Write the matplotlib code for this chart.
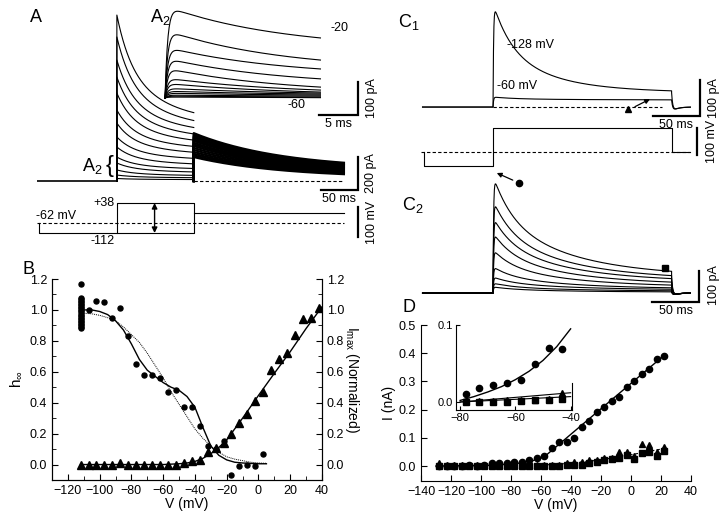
import numpy as np
import matplotlib
matplotlib.use('Agg')
import matplotlib.pyplot as plt
from matplotlib.ticker import MultipleLocator, FormatStrFormatter

plt.rcParams['font.family'] = ['Liberation Sans', 'DejaVu Sans']
plt.rcParams['mathtext.fontset'] = 'custom'
plt.rcParams['mathtext.rm'] = 'Liberation Sans'
plt.rcParams['mathtext.it'] = 'Liberation Sans:italic'
plt.rcParams['font.size'] = 9
plt.rcParams['axes.linewidth'] = 0.8

# ---- panel A: current families (pA) ----
a_pre_peak = [1006, 873, 733, 630, 533, 430, 351, 267, 206, 145, 109, 67, 36, 15]
a_pre_end = [340, 303, 273, 242, 212, 182, 152, 121, 91, 67, 48, 30, 18, 8]
a_test_peak = [290, 280, 270, 262, 252, 243, 232, 222, 212, 200, 188, 176, 165, 155, 145]
a_test_end = [70, 67, 63, 60, 57, 54, 50, 47, 43, 39, 35, 31, 27, 23, 18]
a_step_ms = 104

# A2 inset (first 20 ms of prepulse)
a2_start = [279, 206, 155, 121, 91, 61, 45, 30, 21, 15, 9, 6, 3]
a2_end = [182, 115, 88, 58, 33, 24, 18, 15, 12, 9, 6, 3, 1]

# voltage protocol A (mV)
a_hold = -62
a_pre_lo = -112
a_pre_hi = 38
a_test = -12

# ---- panel C (pA) ----
c1_peak = [289, 28]
c1_end = [40, 20]
c2_peak = [380, 300, 245, 195, 140, 85, 52, 32, 20]
c2_end = [52, 42, 35, 26, 19, 13, 10, 6, 3]
c_step_ms = 190
c_hold = -60
c_pre = -128
c_test = 60

# ---- panel B ----
h_stack = [0.88, 0.89, 0.90, 0.91, 0.92, 0.93, 0.94, 0.95, 0.96, 0.97, 0.98,
           0.99, 1.00, 1.01, 1.02, 1.03, 1.04, 1.05, 1.06, 1.07, 1.08, 1.17]
h_stack_v = -112
h_v = [-107, -102, -97, -92, -87, -82, -77, -72, -67, -62, -57, -52, -47, -42,
       -37, -32, -27, -22, -17, -12, -7, -2, 3]
h_vals = [1.00, 1.06, 1.05, 0.95, 1.01, 0.83, 0.65, 0.58, 0.58, 0.56, 0.47, 0.48,
          0.37, 0.37, 0.25, 0.12, 0.10, 0.15, -0.07, -0.01, 0.0, -0.01, 0.07]
imax_v = [-112, -107, -102, -97, -92, -87, -82, -77, -72, -67, -62, -57, -52,
          -47, -42, -37, -32, -27, -22, -17, -12, -7, -2, 3, 8, 13, 18, 23, 28, 33, 38]
imax_vals = [0.0, 0.0, 0.0, 0.0, 0.0, 0.01, 0.0, 0.0, 0.0, 0.0, 0.0, 0.0, 0.0,
             0.01, 0.02, 0.03, 0.08, 0.11, 0.14, 0.20, 0.27, 0.33, 0.41, 0.47,
             0.61, 0.68, 0.72, 0.84, 0.94, 0.95, 1.01]
fit_v = [-112, -105, -100, -95, -90, -85, -80, -75, -70, -65, -60, -55, -50, -45,
         -40, -35, -30, -25, -20, -15, -10, -5, 0, 5]
h_fit = [1.0, 1.0, 0.99, 0.97, 0.93, 0.87, 0.78, 0.68, 0.61, 0.57, 0.53, 0.50,
         0.48, 0.44, 0.37, 0.24, 0.12, 0.06, 0.03, 0.015, 0.01, 0.007, 0.005, 0.005]
h_fit_single = [0.98, 0.975, 0.965, 0.95, 0.93, 0.89, 0.84, 0.79, 0.72, 0.64, 0.56,
                0.47, 0.39, 0.31, 0.23, 0.17, 0.12, 0.08, 0.05, 0.035, 0.025,
                0.015, 0.01, 0.008]
imax_fit_v = [-112, -60, -50, -45, -40, -35, -30, -25, -20, -10, 0, 10, 20, 30, 40]
imax_fit = [0.0, 0.0, 0.005, 0.01, 0.02, 0.04, 0.07, 0.11, 0.16, 0.30, 0.447,
            0.59, 0.73, 0.88, 1.02]

# ---- panel D ----
d_v = [-128, -123, -118, -113, -108, -103, -98, -93, -88, -83, -78, -73, -68,
       -63, -58, -53, -48, -43, -38, -33, -28, -23, -18, -13, -8, -3, 2, 7, 12, 17, 22]
d_circ = [0.0, 0.0, 0.0, 0.0, 0.005, 0.0, 0.005, 0.01, 0.012, 0.012, 0.015, 0.015,
          0.02, 0.028, 0.035, 0.065, 0.085, 0.085, 0.10, 0.14, 0.16, 0.19, 0.21,
          0.23, 0.245, 0.28, 0.30, 0.325, 0.345, 0.38, 0.39]
d_tri = [0.012, 0.005, 0.005, 0.005, 0.005, 0.005, 0.005, 0.005, 0.005, 0.005,
         0.005, 0.005, 0.005, 0.005, 0.003, 0.005, 0.005, 0.01, 0.015, 0.015,
         0.02, 0.02, 0.03, 0.03, 0.05, 0.05, 0.035, 0.077, 0.074, 0.05, 0.068]
d_sq = [0.0, 0.0, 0.0, 0.0, 0.0, 0.0, 0.0, 0.0, 0.0, 0.0, 0.0, 0.0, 0.0, 0.0,
        0.0, 0.0, 0.0, 0.002, 0.005, 0.005, 0.01, 0.015, 0.02, 0.025, 0.03,
        0.04, 0.025, 0.045, 0.05, 0.035, 0.055]
d_fit_v = [-130, -90, -75, -65, -58, 22]
d_fit = [0.0, 0.003, 0.01, 0.02, 0.032, 0.392]
d_fit2_v = [-60, -40, -20, 0, 22]
d_fit2 = [0.003, 0.01, 0.022, 0.04, 0.062]

din_v = [-78, -73, -68, -63, -58, -53, -48, -43]
din_circ = [0.010, 0.018, 0.022, 0.025, 0.029, 0.049, 0.070, 0.069]
din_tri = [0.001, 0.001, 0.001, 0.002, 0.002, 0.003, 0.004, 0.012]
din_sq = [0.0, 0.0, 0.0, 0.0, 0.001, 0.002, 0.002, 0.004]
din_fit_v = [-80, -75, -70, -65, -60, -55, -50, -45, -40]
din_fit = [0.002, 0.007, 0.013, 0.02, 0.029, 0.04, 0.054, 0.072, 0.095]
din_fit_tri = [0.0, 0.012]
din_fit_sq = [0.0, 0.007]

W, H = 720, 517
fig = plt.figure(figsize=(7.2, 5.17), dpi=100)


def px_axes(x0, y0, x1, y1, off=True):
    ax = fig.add_axes([x0 / W, 1 - y1 / H, (x1 - x0) / W, (y1 - y0) / H])
    if off:
        ax.axis('off')
    return ax


def ftext(x, y, s, **kw):
    fig.text(x / W, 1 - y / H, s, **kw)


def two_exp(t, peak, end, tau1, tau2, frac):
    return end + (peak - end) * (frac * np.exp(-t / tau1) + (1 - frac) * np.exp(-t / tau2))


def scale_bar(ax, x, y, dx, dy):
    ax.plot([x - dx, x, x], [y, y, y + dy], color='k', lw=1.6, clip_on=False,
            solid_joinstyle='miter')


LW = 0.8

# ================= panel A main traces =================
axA = px_axes(37, 5, 372, 195)
axA.set_xlim(-108, 345)
axA.set_ylim(-85, 1067)
axA.plot([-108, 0], [0, 0], color='k', lw=1.2)
t = np.linspace(0, a_step_ms, 300)
for pk, en in zip(a_pre_peak, a_pre_end):
    y = two_exp(t, pk, en, 20, 70, 0.52)
    axA.plot(np.r_[0, t], np.r_[0, y], color='k', lw=LW)
t2 = np.linspace(a_step_ms, 307, 300)
for pk, en in zip(a_test_peak, a_test_end):
    y = two_exp(t2 - a_step_ms, pk, en, 120, 120, 0.5)
    axA.plot(np.r_[a_step_ms, t2], np.r_[0, y], color='k', lw=1.6)
axA.plot([a_step_ms, 307], [0, 0], color='k', lw=0.8, ls=(0, (3, 2)))
scale_bar(axA, 326, -55, 50, 200)
axA.text(301, -70, '50 ms', ha='center', va='top', fontsize=9)
axA.text(336, 45, '200 pA', rotation=90, ha='left', va='center', fontsize=9)

# ================= panel A2 inset =================
axA2 = px_axes(160, 0, 372, 130)
axA2.set_xlim(-0.64, 26.5)
axA2.set_ylim(-97, 297)
ti = np.linspace(0, 19.9, 300)
for s0, e0 in zip(a2_start, a2_end):
    rise = 1 - np.exp(-ti / 0.35)
    y = s0 + (e0 - s0) * (1 - np.exp(-ti / 15)) / (1 - np.exp(-19.9 / 15))
    axA2.plot(ti, rise * y, color='k', lw=LW)
scale_bar(axA2, 24.74, -51.5, 5, 100)
axA2.text(22.2, -60, '5 ms', ha='center', va='top', fontsize=9)
axA2.text(25.7, 0, '100 pA', rotation=90, ha='left', va='center', fontsize=9)
axA2.text(21.2, 212, '-20', ha='left', va='center', fontsize=9)
axA2.text(16.8, -21, '-60', ha='center', va='center', fontsize=9)

# ================= panel A voltage protocol =================
axAv = px_axes(37, 195, 372, 245)
axAv.set_xlim(-108, 345)
axAv.set_ylim(-172, 78)
axAv.plot([-108, 307], [a_hold, a_hold], color='k', lw=0.8, ls=(0, (3, 2)))
axAv.plot([-105, -105, 0, 0, a_step_ms, a_step_ms, 0],
          [a_hold, a_pre_lo, a_pre_lo, a_pre_hi, a_pre_hi, a_pre_lo, a_pre_lo],
          color='k', lw=0.8)
axAv.plot([a_step_ms, 307], [a_test, a_test], color='k', lw=0.8)
axAv.annotate('', xy=(51, a_pre_hi), xytext=(51, a_pre_lo),
              arrowprops=dict(arrowstyle='<|-|>', color='k', lw=1.0,
                              mutation_scale=8, shrinkA=0, shrinkB=0))
axAv.plot([326, 326], [-132, 18], color='k', lw=1.6, clip_on=False)
axAv.text(337, -57, '100 mV', rotation=90, ha='left', va='center', fontsize=9)
axAv.text(-3, a_pre_hi, '+38', ha='right', va='center', fontsize=9)
axAv.text(-3, a_pre_lo - 8, '-112', ha='right', va='top', fontsize=9)
axAv.text(-109, a_hold + 3, '-62 mV', ha='left', va='bottom', fontsize=9)

ftext(30, 18, 'A', fontsize=13, va='center')
ftext(150, 17, r'A$_2$', fontsize=13, va='center')
ftext(82, 166, r'A$_2$', fontsize=13, va='center')
ftext(106, 166, '{', fontsize=17, va='center')

# ================= panel C1 =================
axC1 = px_axes(420, 0, 720, 120)
axC1.set_xlim(-77.7, 241.5)
axC1.set_ylim(-36, 297.5)
tc = np.linspace(0, c_step_ms, 400)
tt = np.linspace(c_step_ms, 210, 60)
for pk, en in zip(c1_peak, c1_end):
    y = (1 - np.exp(-tc / 0.6)) * two_exp(tc, pk, en, 20, 60, 0.52)
    tail = (en + 15) * np.exp(-(tt - c_step_ms) / 1.2) - 15 * np.exp(-(tt - c_step_ms) / 5)
    axC1.plot(np.r_[-75, tc, tt], np.r_[0, y, tail], color='k', lw=LW)
axC1.plot([0, 180], [0, 0], color='k', lw=0.8, ls=(0, (3, 2)))
scale_bar(axC1, 220, -25, 50, 100)
axC1.text(195, -33, '50 ms', ha='center', va='top', fontsize=9)
axC1.text(229, 25, '100 pA', rotation=90, ha='left', va='center', fontsize=9)
axC1.text(15, 172, '-128 mV', ha='left', va='center', fontsize=9)
axC1.text(4, 58, '-60 mV', ha='left', va='center', fontsize=9)
axC1.plot([144], [-5], marker='^', ms=4, color='k')
axC1.annotate('', xy=(167, 22), xytext=(151, 1),
              arrowprops=dict(arrowstyle='-|>', color='k', lw=0.9, mutation_scale=7,
                              shrinkA=0, shrinkB=0))

# ================= panel C protocol =================
axCv = px_axes(420, 120, 720, 175)
axCv.set_xlim(-77.7, 241.5)
axCv.set_ylim(-175, 100)
axCv.plot([-77, 210], [c_hold, c_hold], color='k', lw=0.8, ls=(0, (3, 2)))
axCv.plot([-73, -73, 0, 0, c_step_ms, c_step_ms, 210],
          [c_hold, c_pre, c_pre, c_test, c_test, c_hold, c_hold], color='k', lw=0.8)
axCv.plot([217, 217], [-75, 60], color='k', lw=1.6, clip_on=False)
axCv.text(227, -8, '100 mV', rotation=90, ha='left', va='center', fontsize=9)

# ================= panel C2 =================
axC2 = px_axes(420, 160, 720, 320)
axC2.set_xlim(-77.7, 241.5)
axC2.set_ylim(-87, 430)
for pk, en in zip(c2_peak, c2_end):
    y = (1 - np.exp(-tc / 0.6)) * two_exp(tc, pk, en, 20, 80, 0.4)
    tail = (en + 10) * np.exp(-(tt - c_step_ms) / 1.2) - 10 * np.exp(-(tt - c_step_ms) / 5)
    axC2.plot(np.r_[-75, tc, tt], np.r_[0, y, tail], color='k', lw=LW)
scale_bar(axC2, 219, -29, 50, 100)
axC2.text(195, -40, '50 ms', ha='center', va='top', fontsize=9)
axC2.text(229, 26, '100 pA', rotation=90, ha='left', va='center', fontsize=9)
axC2.plot([28], [355], marker='o', ms=4.5, color='k')
axC2.annotate('', xy=(4, 388), xytext=(21, 365),
              arrowprops=dict(arrowstyle='-|>', color='k', lw=0.9, mutation_scale=7,
                              shrinkA=0, shrinkB=0))
axC2.plot([183], [81], marker='s', ms=4, color='k')

ftext(398, 22, r'C$_1$', fontsize=13, va='center')
ftext(402, 205, r'C$_2$', fontsize=13, va='center')

# ================= panel B =================
axB = px_axes(52, 279, 322, 480, off=False)
axB.plot([h_stack_v] * len(h_stack), h_stack, 'o', ms=3.6, color='k')
axB.plot(h_v, h_vals, 'o', ms=3.6, color='k')
axB.plot(imax_v, imax_vals, '^', ms=5.5, color='k')
axB.plot(fit_v, h_fit, color='k', lw=1.0)
axB.plot(fit_v, h_fit_single, color='k', lw=0.7, ls=(0, (1, 1)))
axB.plot(imax_fit_v, imax_fit, color='k', lw=1.0)
axB.set_xlim(-130, 40)
axB.set_ylim(-0.1, 1.2)
axB.set_xticks([-120, -100, -80, -60, -40, -20, 0, 20, 40])
axB.xaxis.set_minor_locator(MultipleLocator(10))
axB.set_yticks([0.0, 0.2, 0.4, 0.6, 0.8, 1.0, 1.2])
axB.yaxis.set_minor_locator(MultipleLocator(0.1))
axB.yaxis.set_major_formatter(FormatStrFormatter('%.1f'))
axB.spines['top'].set_visible(False)
axB.tick_params(which='both', direction='in', labelsize=9)
axB.tick_params(which='major', length=4)
axB.tick_params(which='minor', length=3)
axB.set_xlabel('V (mV)', fontsize=10, labelpad=0)
axB.set_ylabel(r'h$_\infty$', fontsize=11, labelpad=4)
axB2 = axB.twinx()
axB2.set_ylim(-0.1, 1.2)
axB2.set_yticks([0.0, 0.2, 0.4, 0.6, 0.8, 1.0, 1.2])
axB2.yaxis.set_minor_locator(MultipleLocator(0.1))
axB2.yaxis.set_major_formatter(FormatStrFormatter('%.1f'))
axB2.spines['top'].set_visible(False)
axB2.tick_params(which='both', direction='in', labelsize=9)
axB2.tick_params(which='major', length=4)
axB2.tick_params(which='minor', length=3)
axB2.set_ylabel(r'I$_{\rm max}$ (Normalized)', fontsize=10, rotation=270, labelpad=12)
ftext(22, 270, 'B', fontsize=13, va='center')

# ================= panel D =================
axD = px_axes(421, 325, 691, 481, off=False)
axD.plot(d_v, d_circ, 'o', ms=4.5, color='k')
axD.plot(d_v, d_sq, 's', ms=4, color='k')
axD.plot(d_v, d_tri, '^', ms=5, color='k')
axD.plot(d_fit_v, d_fit, color='k', lw=1.0)
axD.plot(d_fit2_v, d_fit2, color='k', lw=0.8, ls=(0, (3, 2)))
axD.set_xlim(-140, 40)
axD.set_ylim(-0.053, 0.5)
axD.set_xticks([-140, -120, -100, -80, -60, -40, -20, 0, 20, 40])
axD.set_yticks([0.0, 0.1, 0.2, 0.3, 0.4, 0.5])
axD.yaxis.set_major_formatter(FormatStrFormatter('%.1f'))
axD.spines['top'].set_visible(False)
axD.spines['right'].set_visible(False)
axD.spines['left'].set_bounds(-0.053, 0.5)
axD.tick_params(which='both', direction='in', labelsize=9, length=4)
axD.set_xlabel('V (mV)', fontsize=10, labelpad=0)
axD.set_ylabel('I (nA)', fontsize=10, labelpad=2)
ftext(403, 308, 'D', fontsize=13, va='center')

axDi = px_axes(456, 325, 572, 410, off=False)
axDi.patch.set_alpha(0)
axDi.plot(din_v, din_circ, 'o', ms=4.5, color='k')
axDi.plot(din_v, din_sq, 's', ms=4, color='k')
axDi.plot(din_v, din_tri, '^', ms=5, color='k')
axDi.plot(din_fit_v, din_fit, color='k', lw=1.0)
axDi.plot([-80, -40], din_fit_tri, color='k', lw=0.8)
axDi.plot([-80, -40], din_fit_sq, color='k', lw=0.8)
axDi.set_xlim(-81.5, -39.5)
axDi.set_ylim(-0.0104, 0.1)
axDi.set_xticks([-80, -60, -40])
axDi.set_yticks([0.0, 0.1])
axDi.yaxis.set_major_formatter(FormatStrFormatter('%.1f'))
axDi.spines['top'].set_visible(False)
axDi.spines['right'].set_bounds(-0.0104, 0.025)
axDi.tick_params(which='both', direction='in', labelsize=8, length=3, pad=2)

fig.savefig('out.png', dpi=100)
